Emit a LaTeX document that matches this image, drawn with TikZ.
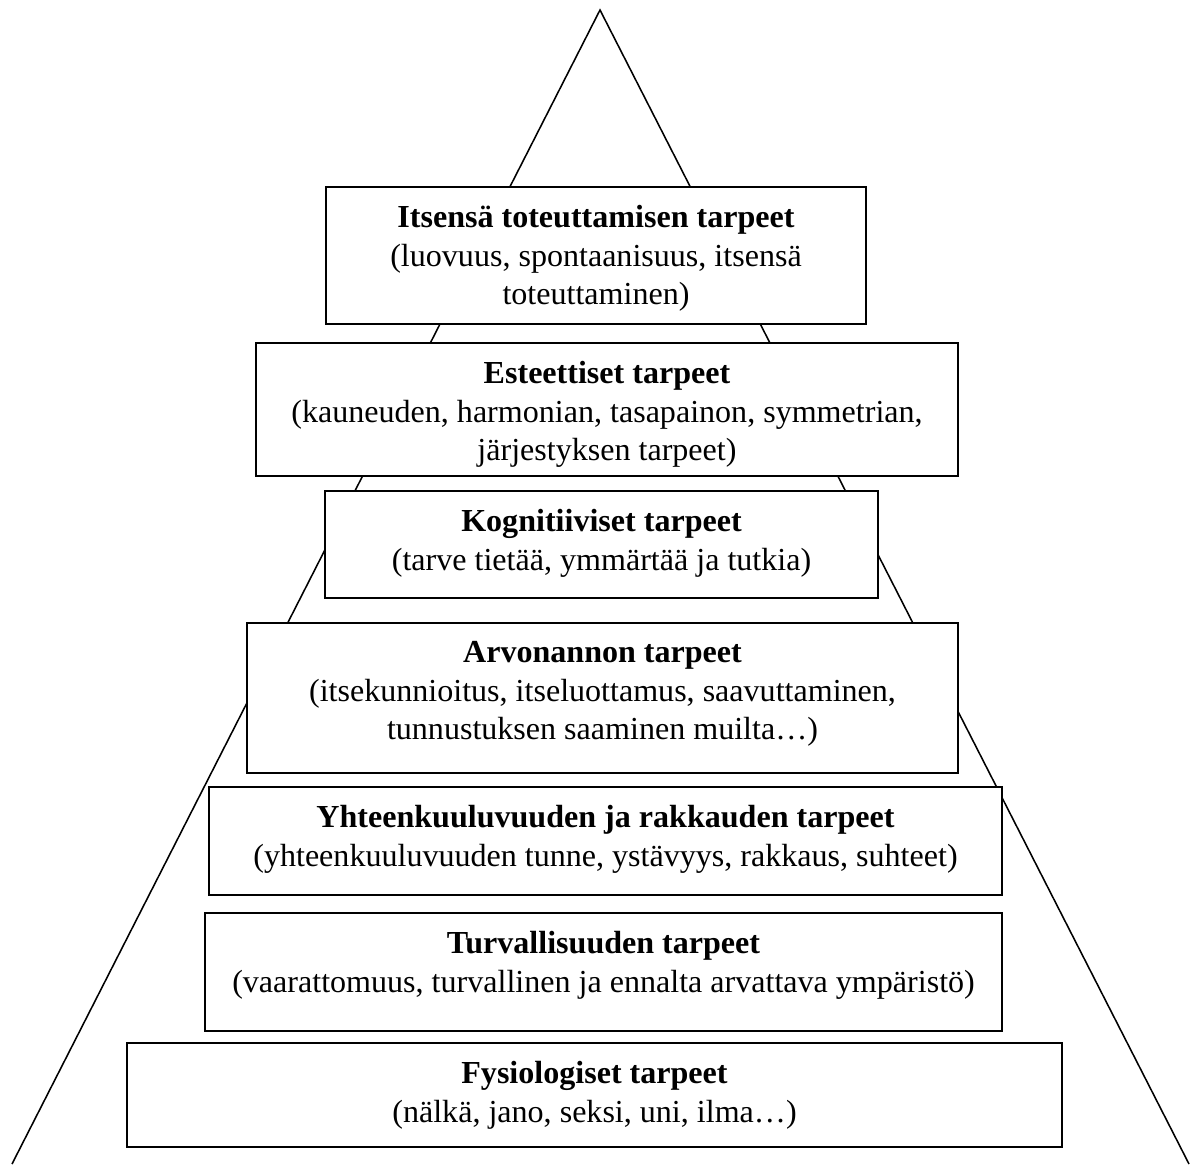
\documentclass[tikz,border=0pt]{standalone}
\usepackage{fontspec}
\setmainfont{Liberation Serif}
\usepackage{tikz}
\usetikzlibrary{positioning}
\tikzstyle{level} = [rectangle, draw, line width=1.4pt, fill=white, inner sep=0pt]
\tikzstyle{levtext} = [anchor=north, align=center, inner sep=0pt, yshift=-0.48cm, font=\fontsize{22.8}{27.4}\selectfont]
\tikzstyle{side} = [draw, line width=1.1pt]

\begin{document}
\begin{tikzpicture}[x=0.025cm, y=-0.025cm]
	\useasboundingbox (0,0) rectangle (1194,1164);
	% pyramid outline
	\coordinate (apex) at (600,10);
	\coordinate (baseL) at (12,1164);
	\coordinate (baseR) at (1189,1164);
	\path [side] (baseL) -- (apex) -- (baseR);
	% levels, top to bottom
	\node [level, minimum width=13.5cm, minimum height=3.425cm] (itse) at (596,255.5) {};
	\node [levtext] (itsetxt) at (itse.north) {\textbf{Itsensä toteuttamisen tarpeet}\\(luovuus, spontaanisuus, itsensä\\toteuttaminen)};
	\node [level, minimum width=17.55cm, minimum height=3.325cm] (este) at (607,409.5) {};
	\node [levtext] (estetxt) at (este.north) {\textbf{Esteettiset tarpeet}\\(kauneuden, harmonian, tasapainon, symmetrian,\\järjestyksen tarpeet)};
	\node [level, minimum width=13.825cm, minimum height=2.675cm] (kogn) at (601.5,544.5) {};
	\node [levtext] (kogntxt) at (kogn.north) {\textbf{Kognitiiviset tarpeet}\\(tarve tietää, ymmärtää ja tutkia)};
	\node [level, minimum width=17.775cm, minimum height=3.75cm] (arvo) at (602.5,698) {};
	\node [levtext] (arvotxt) at (arvo.north) {\textbf{Arvonannon tarpeet}\\(itsekunnioitus, itseluottamus, saavuttaminen,\\tunnustuksen saaminen muilta…)};
	\node [level, minimum width=19.825cm, minimum height=2.7cm] (yhte) at (605.5,841) {};
	\node [levtext] (yhtetxt) at (yhte.north) {\textbf{Yhteenkuuluvuuden ja rakkauden tarpeet}\\(yhteenkuuluvuuden tunne, ystävyys, rakkaus, suhteet)};
	\node [level, minimum width=19.925cm, minimum height=2.95cm] (turva) at (603.5,972) {};
	\node [levtext] (turvatxt) at (turva.north) {\textbf{Turvallisuuden tarpeet}\\(vaarattomuus, turvallinen ja ennalta arvattava ympäristö)};
	\node [level, minimum width=23.375cm, minimum height=2.6cm] (fysio) at (594.5,1095) {};
	\node [levtext] (fysiotxt) at (fysio.north) {\textbf{Fysiologiset tarpeet}\\(nälkä, jano, seksi, uni, ilma…)};
\end{tikzpicture}
\end{document}
